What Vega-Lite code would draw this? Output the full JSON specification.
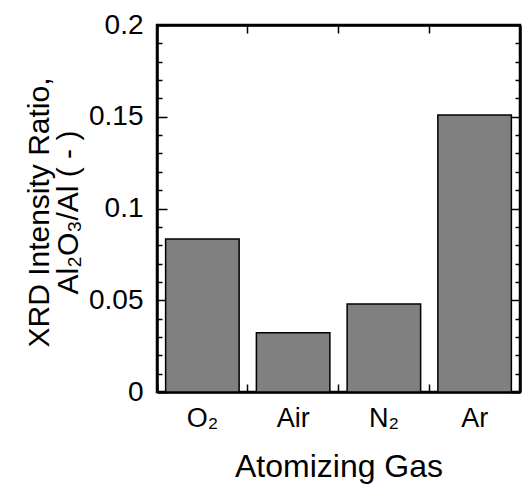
{
  "$schema": "https://vega.github.io/schema/vega-lite/v6.json",
  "autosize": "none",
  "width": 363,
  "height": 367,
  "padding": {"left": 157, "top": 25, "right": 3, "bottom": 94},
  "background": "white",
  "config": {
    "view": {"stroke": "black", "strokeWidth": 2.5},
    "font": "Liberation Sans",
    "axis": {"domainColor": "black", "domainWidth": 2.5, "tickColor": "black", "tickWidth": 1.5, "labelColor": "black", "titleColor": "black", "labelFont": "Liberation Sans", "titleFont": "Liberation Sans", "titleFontWeight": "normal", "grid": false, "ticks": true}
  },
  "data": {"values": [
    {"gas": "O₂", "ratio": 0.0834},
    {"gas": "Air", "ratio": 0.0323},
    {"gas": "N₂", "ratio": 0.048},
    {"gas": "Ar", "ratio": 0.151}
  ]},
  "resolve": {"axis": {"x": "independent", "y": "independent"}},
  "layer": [
    {
      "mark": {"type": "bar", "fill": "#808080", "stroke": "black", "strokeWidth": 1.5, "width": {"band": 0.81}},
      "encoding": {
        "x": {"field": "gas", "type": "nominal", "sort": null,
          "scale": {"paddingInner": 0, "paddingOuter": 0},
          "axis": {"orient": "bottom", "title": "Atomizing Gas", "labelAngle": 0, "bandPosition": 0, "ticks": true, "tickSize": -8, "labelPadding": 21, "labelFontSize": 27, "titleFontSize": 32, "titlePadding": 20}},
        "y": {"field": "ratio", "type": "quantitative",
          "scale": {"domain": [0, 0.2], "nice": false},
          "axis": {"orient": "left", "title": ["XRD Intensity Ratio,", "Al₂O₃/Al ( - )"], "titleFontSize": 30, "titleLineHeight": 29,
            "titleAngle": -90, "titleX": -118, "titleY": 187, "titleBaseline": "middle", "titleAlign": "center",
            "values": [0, 0.05, 0.1, 0.15, 0.2],
            "format": "~g", "labelFontSize": 28, "ticks": true,
            "tickSize": -10,
            "labelPadding": 24}}
      }
    },
    {
      "mark": {"type": "bar", "opacity": 0, "width": {"band": 0.81}},
      "encoding": {
        "y": {"field": "ratio", "type": "quantitative",
          "axis": {"orient": "left", "title": null, "labels": false, "domain": false, "ticks": true,
            "values": [0.01,0.02,0.03,0.04,0.06,0.07,0.08,0.09,0.11,0.12,0.13,0.14,0.16,0.17,0.18,0.19],
            "tickSize": -5}}
      }
    },
    {
      "mark": {"type": "bar", "opacity": 0, "width": {"band": 0.81}},
      "encoding": {
        "x": {"field": "gas", "type": "nominal", "sort": null,
          "axis": {"orient": "top", "title": null, "labels": false, "bandPosition": 0, "ticks": true, "tickSize": -8}},
        "y": {"field": "ratio", "type": "quantitative",
          "axis": {"orient": "right", "title": null, "labels": false, "ticks": true,
            "values": [0, 0.05, 0.1, 0.15, 0.2],
            "tickSize": -10}}
      }
    },
    {
      "mark": {"type": "bar", "opacity": 0, "width": {"band": 0.81}},
      "encoding": {
        "y": {"field": "ratio", "type": "quantitative",
          "axis": {"orient": "right", "title": null, "labels": false, "domain": false, "ticks": true,
            "values": [0.01,0.02,0.03,0.04,0.06,0.07,0.08,0.09,0.11,0.12,0.13,0.14,0.16,0.17,0.18,0.19],
            "tickSize": -5}}
      }
    }
  ]
}
